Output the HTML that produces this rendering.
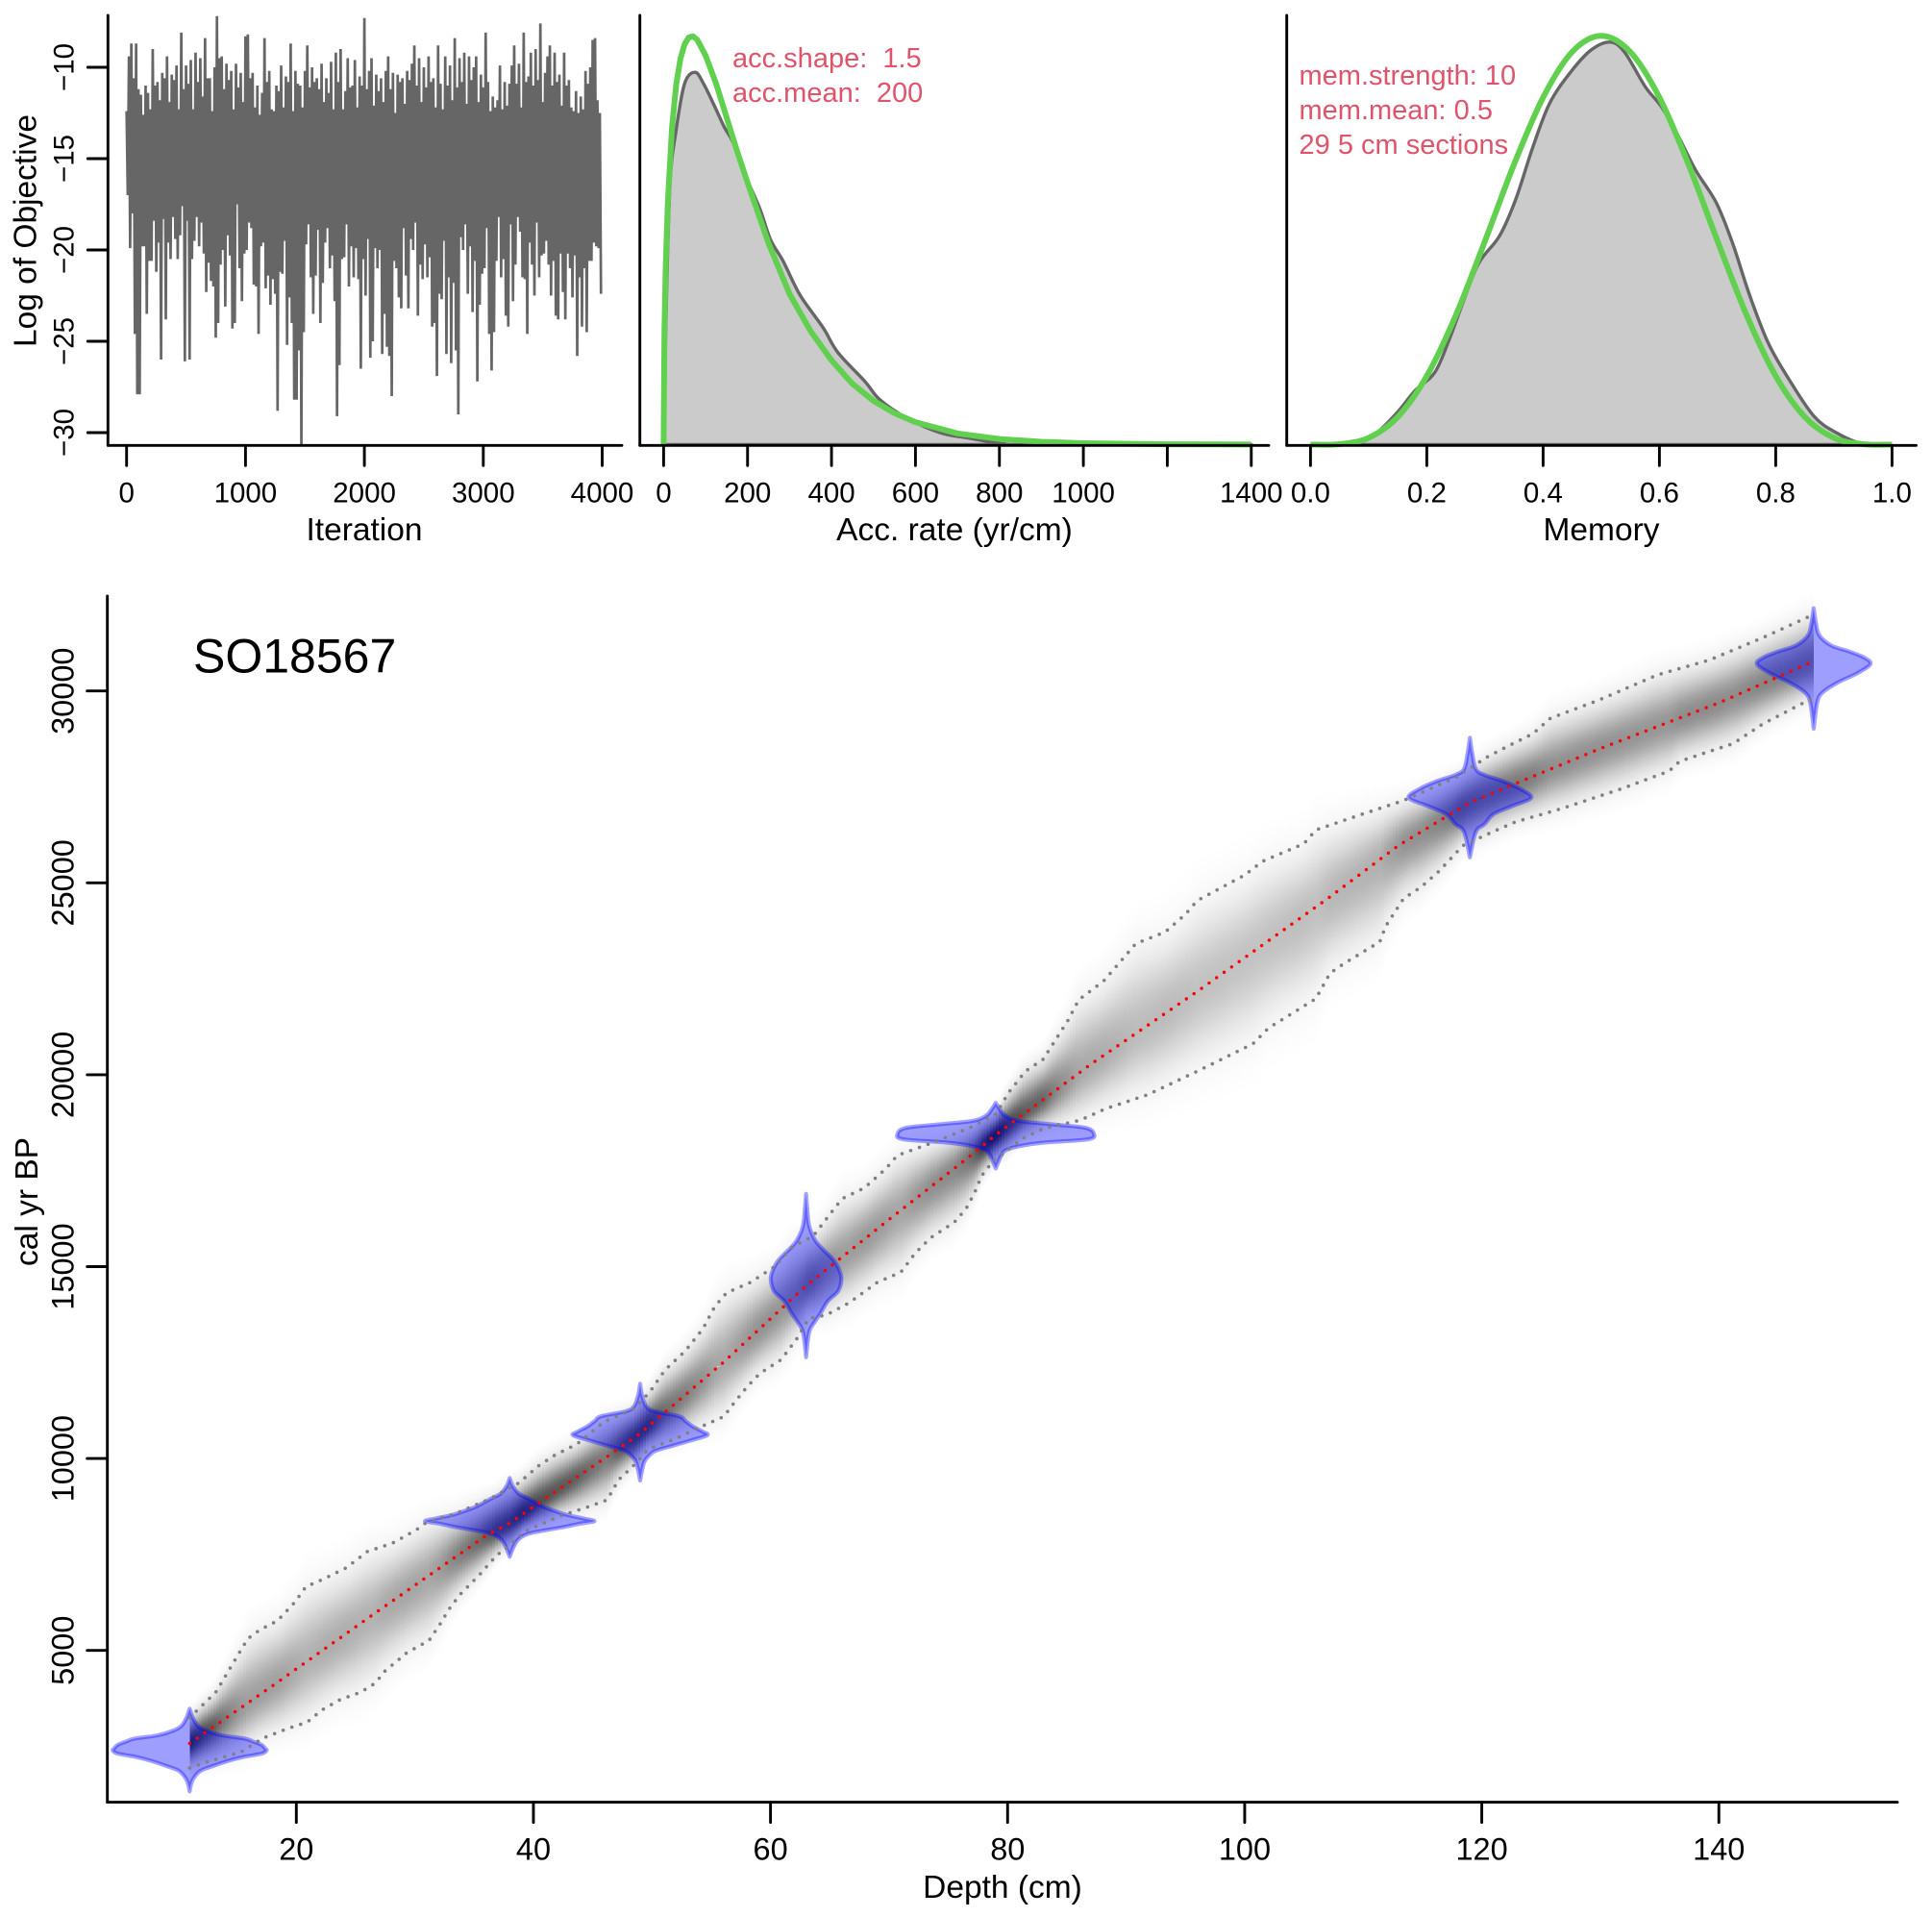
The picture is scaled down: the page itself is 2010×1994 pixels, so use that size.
<!DOCTYPE html>
<html lang="en">
<head>
<meta charset="utf-8">
<title>SO18567 age-depth model</title>
<style>
html,body{margin:0;padding:0;background:#fff}
svg{display:block}
text{font-family:"Liberation Sans",Arial,sans-serif;fill:#000;white-space:pre}
.note{fill:#DF536B;font-size:29px}
</style>
</head>
<body>
<svg id="chart" xmlns="http://www.w3.org/2000/svg" width="2010" height="1994" viewBox="0 0 2010 1994">
  <defs>
    <linearGradient id="heatUp" x1="0" y1="0" x2="0" y2="1">
      <stop offset="0" stop-color="#000" stop-opacity="0"/>
      <stop offset="0.1" stop-color="#000" stop-opacity="0.026"/>
      <stop offset="0.2" stop-color="#000" stop-opacity="0.056"/>
      <stop offset="0.3" stop-color="#000" stop-opacity="0.11"/>
      <stop offset="0.4" stop-color="#000" stop-opacity="0.198"/>
      <stop offset="0.5" stop-color="#000" stop-opacity="0.325"/>
      <stop offset="0.6" stop-color="#000" stop-opacity="0.487"/>
      <stop offset="0.7" stop-color="#000" stop-opacity="0.667"/>
      <stop offset="0.8" stop-color="#000" stop-opacity="0.835"/>
      <stop offset="0.9" stop-color="#000" stop-opacity="0.956"/>
      <stop offset="1" stop-color="#000" stop-opacity="1"/>
    </linearGradient>
    <linearGradient id="heatDown" x1="0" y1="1" x2="0" y2="0">
      <stop offset="0" stop-color="#000" stop-opacity="0"/>
      <stop offset="0.1" stop-color="#000" stop-opacity="0.026"/>
      <stop offset="0.2" stop-color="#000" stop-opacity="0.056"/>
      <stop offset="0.3" stop-color="#000" stop-opacity="0.11"/>
      <stop offset="0.4" stop-color="#000" stop-opacity="0.198"/>
      <stop offset="0.5" stop-color="#000" stop-opacity="0.325"/>
      <stop offset="0.6" stop-color="#000" stop-opacity="0.487"/>
      <stop offset="0.7" stop-color="#000" stop-opacity="0.667"/>
      <stop offset="0.8" stop-color="#000" stop-opacity="0.835"/>
      <stop offset="0.9" stop-color="#000" stop-opacity="0.956"/>
      <stop offset="1" stop-color="#000" stop-opacity="1"/>
    </linearGradient>
    <clipPath id="traceClip"><rect x="112" y="10" width="535" height="453"/></clipPath>
  </defs>

  <g id="tracePanel">
    <g id="traceMarks" clip-path="url(#traceClip)"></g>
    <g id="traceAxes"></g>
    <text x="379" y="562" font-size="33.5" text-anchor="middle">Iteration</text>
    <text transform="translate(37.5,240) rotate(-90)" font-size="33.5" text-anchor="middle">Log of Objective</text>
  </g>

  <g id="accPanel">
    <g id="accMarks"></g>
    <g id="accAxes"></g>
    <text x="993" y="562" font-size="33.5" text-anchor="middle">Acc. rate (yr/cm)</text>
    <text class="note" x="762" y="70">acc.shape:  1.5</text>
    <text class="note" x="762" y="106">acc.mean:  200</text>
  </g>

  <g id="memPanel">
    <g id="memMarks"></g>
    <g id="memAxes"></g>
    <text x="1666" y="562" font-size="33.5" text-anchor="middle">Memory</text>
    <text class="note" x="1351.5" y="88">mem.strength: 10</text>
    <text class="note" x="1351.5" y="124">mem.mean: 0.5</text>
    <text class="note" x="1351.5" y="160">29 5 cm sections</text>
  </g>

  <g id="mainPanel">
    <g id="heat"></g>
    <g id="violins"></g>
    <g id="bounds"></g>
    <g id="mainAxes"></g>
    <text x="201" y="699.5" font-size="50">SO18567</text>
    <text x="1043" y="1974" font-size="33.5" text-anchor="middle">Depth (cm)</text>
    <text transform="translate(39,1250) rotate(-90)" font-size="33.5" text-anchor="middle">cal yr BP</text>
  </g>
</svg>

<script>
// ---------- trace panel data (envelope, 200 bins) ----------
const traceHigh = [
-12.4,-9.4,-8.7,-10.6,-8.7,-11.2,-11.5,-12.6,-11.0,-11.4,-12.3,-9.0,-11.0,-10.8,-11.8,-10.3,-10.6,-9.4,-11.9,-10.4,
-10.7,-9.9,-12.3,-8.1,-11.2,-9.9,-10.9,-9.6,-12.3,-9.2,-10.8,-9.5,-11.6,-8.4,-10.6,-10.6,-12.4,-10.0,-7.2,-9.5,
-9.4,-11.2,-9.8,-10.7,-10.2,-12.3,-9.8,-11.1,-10.3,-11.9,-8.3,-8.2,-10.6,-10.3,-12.2,-11.0,-12.6,-11.4,-8.4,-10.8,
-10.2,-12.3,-12.4,-11.0,-11.3,-9.9,-12.2,-10.5,-10.8,-8.7,-12.4,-10.2,-10.9,-11.0,-12.2,-10.2,-8.8,-11.1,-10.0,-10.8,
-10.6,-11.2,-9.8,-11.9,-10.6,-11.4,-9.7,-12.3,-9.2,-10.8,-9.0,-12.3,-11.3,-9.5,-11.1,-11.0,-9.6,-12.2,-10.5,-11.0,
-7.3,-11.2,-10.2,-9.5,-12.1,-10.4,-11.3,-10.6,-11.9,-10.2,-9.4,-11.2,-10.3,-12.5,-10.4,-10.8,-10.6,-12.0,-10.2,-10.7,
-9.8,-8.8,-11.0,-9.5,-11.9,-10.0,-11.1,-9.4,-10.8,-10.6,-12.2,-8.8,-10.9,-12.3,-9.4,-11.0,-9.9,-11.8,-8.4,-11.1,
-9.5,-10.8,-9.2,-12.0,-9.4,-10.7,-10.0,-9.4,-11.9,-10.4,-11.1,-8.1,-10.8,-12.4,-11.6,-12.2,-11.8,-9.9,-12.3,-10.8,
-12.1,-10.9,-9.9,-8.8,-10.9,-9.8,-12.2,-8.1,-10.8,-10.5,-9.2,-11.0,-9.0,-10.7,-7.6,-11.9,-10.3,-9.4,-8.8,-11.0,
-9.2,-10.8,-10.4,-12.1,-9.2,-11.0,-10.7,-12.2,-12.4,-11.3,-12.5,-11.6,-12.3,-10.2,-10.9,-10.0,-8.5,-8.4,-11.8,-12.5
];
const traceLow = [
-17,-19.9,-18,-24.6,-27.9,-27.9,-19.8,-19.8,-23.5,-20.6,-20.6,-18.4,-21.2,-19.6,-26.0,-18.3,-23.8,-19.6,-20.5,-18.2,
-19.4,-20.5,-19.2,-17.6,-26.1,-18.4,-26.0,-20.5,-19.5,-18.2,-19.8,-18.5,-20.2,-22.3,-20.7,-21.7,-22.0,-24.8,-24.0,-20.8,
-20.0,-23.1,-19.2,-20.3,-24.3,-24.0,-17.5,-21.0,-22.8,-20.2,-20.0,-18.5,-18.8,-21.9,-22.0,-24.6,-19.8,-19.6,-22.1,-21.4,
-23.0,-21.6,-22.4,-28.8,-21.2,-21.3,-19.5,-25.2,-22.6,-24.0,-28.2,-28.2,-25.5,-30.8,-24.5,-19.7,-18.6,-21.5,-23.5,-21.4,
-18.9,-24.0,-21.8,-19.6,-18.8,-21.0,-20.3,-22.8,-29.1,-26.3,-20.5,-20.4,-18.6,-22.0,-19.8,-21.5,-19.9,-21.6,-26.5,-20.5,
-22.5,-19.4,-25.9,-25.0,-19.9,-21.0,-20.0,-25.7,-23.5,-25.3,-25.8,-28.0,-20.6,-21.0,-22.6,-23.2,-18.8,-21.4,-23.2,-19.4,
-20.0,-18.5,-23.6,-20.8,-21.6,-19.7,-21.5,-20.4,-24.2,-24.0,-26.9,-22.4,-22.7,-19.5,-25.7,-21.5,-26.2,-21.8,-25.5,-29.0,
-19.3,-20.0,-18.6,-22.4,-19.8,-23.4,-20.6,-27.2,-23.0,-21.3,-21.0,-18.8,-24.6,-26.6,-24.5,-20.6,-18.2,-21.5,-20.5,-23.6,
-24.2,-18.6,-22.8,-20.8,-18.2,-19.0,-21.5,-21.6,-24.6,-19.6,-20.8,-22.5,-18.5,-21.5,-20.3,-20.2,-19.5,-20.8,-22.5,-20.6,
-23.6,-23.8,-20.2,-22.3,-23.8,-20.2,-21.0,-22.6,-20.3,-25.8,-21.5,-24.2,-21.0,-24.5,-20.6,-20.6,-19.6,-19.8,-19.9,-22.4
];
const traceXTicks = [0, 1000, 2000, 3000, 4000];
const traceYTicks = [-10, -15, -20, -25, -30];

// ---------- accumulation rate panel data (x in yr/cm, density x 1000) ----------
const accPriorX = [0,2,5,10,20,30,40,50,60,70,80,100,125,150,175,200,250,300,350,400,450,500,550,600,700,800,900,1000,1200,1400];
const accPriorY = [0,1.02,1.58,2.15,2.82,3.2,3.43,3.56,3.62,3.63,3.6,3.46,3.21,2.91,2.61,2.33,1.79,1.34,1.01,0.75,0.54,0.39,0.28,0.2,0.1,0.05,0.026,0.013,0.003,0.001];
const accPostX = [0,5,15,30,50,75,95,120,145,165,200,230,255,285,325,380,415,480,515,580,660,730,810,890,1400];
const accPostY = [0,1.0,2.3,2.8,3.21,3.31,3.21,3.02,2.82,2.69,2.35,2.09,1.82,1.63,1.33,1.04,0.82,0.56,0.4,0.235,0.105,0.056,0.007,0,0];
const accXTicks = [0,200,400,600,800,1000,1200,1400];
const accXLabels = ["0","200","400","600","800","1000","","1400"];

// ---------- memory panel data ----------
const memPriorX = [0,0.05,0.1,0.15,0.2,0.25,0.3,0.35,0.4,0.45,0.5,0.55,0.6,0.65,0.7,0.75,0.8,0.85,0.9,0.95,1];
const memPriorY = [0,0.003,0.041,0.167,0.413,0.779,1.225,1.687,2.09,2.364,2.461,2.364,2.09,1.687,1.225,0.779,0.413,0.167,0.041,0.003,0];
const memPostX = [0.07,0.11,0.149,0.18,0.214,0.239,0.26,0.289,0.325,0.353,0.382,0.411,0.447,0.482,0.515,0.54,0.576,0.604,0.633,0.662,0.698,0.726,0.755,0.787,0.823,0.866,0.905,0.948,0.97];
const memPostY = [0,0.06,0.193,0.326,0.436,0.636,0.835,1.09,1.256,1.477,1.787,2.053,2.241,2.374,2.423,2.363,2.153,2.031,1.854,1.654,1.455,1.211,0.901,0.613,0.392,0.17,0.07,0.004,0];
const memXTicks = [0,0.2,0.4,0.6,0.8,1];
const memXLabels = ["0.0","0.2","0.4","0.6","0.8","1.0"];

// ---------- age-depth model data ----------
const meanDepths = [11,18,27,36,38,41,46.5,49,56,63,70,77,79,87,96,107,113,119,130,140,148];
const meanAges = [2578,4080,6050,7990,8316,8960,10107,10654,12500,14500,16230,17920,18434,20270,22170,24590,25980,27094,28500,29690,30774];
const upperDepths = [11,13.2,14.7,15.9,16.9,18.4,19.9,20.8,22.2,24.2,26,28.1,30.1,31,33.3,36.4,38.8,40.4,41.7,43.7,46,48.4,49.8,51.1,52.8,54.3,55.3,56.3,58.3,60.3,61.9,63.6,65.6,66.1,67.9,69.7,70.7,73.5,76.8,79,80.1,81.5,83,85.1,86,88.1,90.1,90.8,93.3,95,96,100,101.5,105,106,109.9,113.4,117.9,120.4,122.3,124.3,125.8,129.8,134.8,139.2,143.7,147.7,148];
const upperAges = [3250,3907,4687,5303,5533,5771,6264,6659,6847,7151,7578,7792,8137,8342,8548,8958,9369,9802,10070,10384,10965,11278,11726,12307,12799,13381,13962,14320,14588,14991,15528,15796,16601,16780,17048,17541,17898,18212,18614,18972,19540,20090,20403,21420,21951,22442,23158,23414,23720,24180,24538,25203,25560,26021,26378,26788,27145,27759,28270,28577,28883,29292,29752,30417,30805,31388,31951,32040];
const lowerDepths = [11,12.5,15.3,17.2,19.4,20.9,22.2,23.7,25.4,26.7,27.4,29.3,31.2,32.1,32.9,33.8,35.5,36.9,38,39.2,42.3,44.6,46.2,47.2,48.4,49.7,52,53.5,55,56.1,56.6,58,59.1,60.9,62.3,63.2,64.7,66.6,69,71,72.2,73.5,75.5,76.5,77.2,77.8,78.8,81.3,83.1,86.1,88.3,91.8,96,100.7,102,106,107.2,108.4,111.4,111.9,113.4,114.9,116.4,118.4,120.9,122.8,126.8,131.8,135.8,136.7,141.2,143.7,147.2,148];
const lowerAges = [1936,2100,2347,2716,2979,3127,3456,3718,3907,4154,4441,4934,5262,5673,6084,6453,6987,7480,7726,8096,8507,8740,8917,9450,9802,10250,10518,10742,10947,11100,11323,11860,12218,12576,13157,13649,13739,14052,14588,14857,15349,15751,16154,16512,16914,17362,17764,18346,18609,18812,19119,19477,20091,20807,21215,21982,22647,22902,23465,23874,24589,24896,25305,25970,26327,26583,26941,27452,27912,28168,28628,29139,29701,29800];
const mainXTicks = [20,40,60,80,100,120,140];
const mainYTicks = [5000,10000,15000,20000,25000,30000];

// dated depths: age grid and half width of each calibrated distribution (cm)
const date11Ages = [3481,3247,3038,2913,2788,2704,2621,2537,2454,2395,2312,2228,2120,1995,1869,1702,1535,1326];
const date11Width = [0,0.27,0.68,1.35,2.7,4.6,5.4,6.08,6.35,6.49,6.08,4.6,3.24,2.03,0.95,0.41,0.14,0];
const date38Ages = [9492,9287,9081,8958,8777,8712,8547,8440,8367,8301,8219,8120,8038,7907,7726,7439];
const date38Width = [0,0.25,0.78,1.55,2.64,3.1,4.65,6.2,7.14,5.9,4.65,2.8,1.55,0.78,0.37,0];
const date49Ages = [11949,11636,11368,11234,11100,10983,10831,10697,10607,10473,10339,10205,10088,9891,9426];
const date49Width = [0,0.17,0.5,1.16,3.3,3.8,4.47,5.3,5.66,4.3,2.81,1.32,0.8,0.33,0];
const date63Ages = [16896,16512,16064,15707,15483,15170,14901,14678,14365,14096,13783,13560,13291,12638];
const date63Width = [0,0.1,0.26,0.73,1.32,2.32,2.81,2.98,2.71,1.82,1.22,0.73,0.26,0];
const date79Ages = [19267,19106,18927,18793,18703,18614,18462,18319,18229,18140,18033,17854,17558];
const date79Width = [0,0.33,0.83,2.0,4.97,7.6,8.28,7.8,3.97,2.0,0.83,0.4,0];
const date119Ages = [28781,28372,27963,27810,27656,27452,27217,26992,26788,26532,26327,25663];
const date119Width = [0,0.2,0.5,1.24,2.73,4.22,5.16,3.48,1.99,1.24,0.5,0];
const date148Ages = [32155,31746,31439,31184,31030,30877,30703,30468,30212,29957,29701,29016];
const date148Width = [0,0.2,0.5,1.49,2.98,4.22,4.79,3.72,1.99,0.74,0.3,0];
const dateDepths = [11,38,49,63,79,119,148];
const dateAgeSets = [date11Ages,date38Ages,date49Ages,date63Ages,date79Ages,date119Ages,date148Ages];
const dateWidthSets = [date11Width,date38Width,date49Width,date63Width,date79Width,date119Width,date148Width];

// ---------- axis functions ----------
const traceX = v => 131.7 + v * 0.12370;
const traceY = v => 70 + (-10 - v) * 19.0;
const accX = v => 690.4 + v * 0.4367;
const accY = v => 462.5 - v * 117;
const memX = v => 1363.4 + v * 605;
const memY = v => 462.5 - v * 172.8;
const depthX = v => 308.3 + (v - 20) * 12.333;
const ageY = v => 718.7 + (30000 - v) * 0.03992;

const NS = 'http://www.w3.org/2000/svg';
function add(parent, tag, attrs) {
  const el = document.createElementNS(NS, tag);
  for (const k in attrs) el.setAttribute(k, attrs[k]);
  parent.appendChild(el);
  return el;
}
const byId = id => document.getElementById(id);
const AXW = 2.9, TICK = 21;

function axes(host, cfg) {
  const base = add(host, 'line', {x1: cfg.left, y1: cfg.bottom, x2: cfg.right, y2: cfg.bottom, stroke: '#000', 'stroke-width': AXW, 'stroke-linecap': 'round'});
  
  
  const side = add(host, 'line', {x1: cfg.left, y1: cfg.top, x2: cfg.left, y2: cfg.bottom, stroke: '#000', 'stroke-width': AXW, 'stroke-linecap': 'round'});
  
  
  cfg.xTicks.forEach((t, i) => {
    const px = cfg.xs(t);
    const tk = add(host, 'line', {x1: px, y1: cfg.bottom, x2: px, y2: cfg.bottom + TICK, stroke: '#000', 'stroke-width': AXW, 'stroke-linecap': 'round'});
    
    
    const lab = cfg.xLabels ? cfg.xLabels[i] : String(t);
    if (lab) {
      const tx = add(host, 'text', {x: px, y: cfg.xBase, 'font-size': cfg.font, 'text-anchor': 'middle'});
      tx.textContent = lab;
      
      
    }
  });
  (cfg.yTicks || []).forEach(t => {
    const py = cfg.ys(t);
    const tk = add(host, 'line', {x1: cfg.left - TICK, y1: py, x2: cfg.left, y2: py, stroke: '#000', 'stroke-width': AXW, 'stroke-linecap': 'round'});
    
    
    const tx = add(host, 'text', {transform: 'translate(' + cfg.yBase + ',' + py + ') rotate(-90)', 'font-size': cfg.font, 'text-anchor': 'middle'});
    tx.textContent = String(t).replace('-', '\u2212');
    
    
  });
}

function ptsOf(xs, ys, fx, fy) {
  return xs.map((x, i) => fx(x).toFixed(2) + ',' + fy(ys[i]).toFixed(2)).join(' ');
}
function interp(xs, ys, x) {
  if (x <= xs[0]) return ys[0];
  for (let i = 1; i < xs.length; i++) {
    if (x <= xs[i]) {
      const t = (x - xs[i - 1]) / (xs[i] - xs[i - 1]);
      return ys[i - 1] + t * (ys[i] - ys[i - 1]);
    }
  }
  return ys[ys.length - 1];
}
function smoothPath(p) {
  let d = 'M' + p[0][0].toFixed(2) + ' ' + p[0][1].toFixed(2);
  for (let i = 0; i < p.length - 1; i++) {
    const a = p[Math.max(i - 1, 0)], b = p[i], c = p[i + 1], e = p[Math.min(i + 2, p.length - 1)];
    const c1x = b[0] + (c[0] - a[0]) / 6, c1y = b[1] + (c[1] - a[1]) / 6;
    const c2x = c[0] - (e[0] - b[0]) / 6, c2y = c[1] - (e[1] - b[1]) / 6;
    d += 'C' + c1x.toFixed(2) + ' ' + c1y.toFixed(2) + ' ' + c2x.toFixed(2) + ' ' + c2y.toFixed(2) + ' ' + c[0].toFixed(2) + ' ' + c[1].toFixed(2);
  }
  return d;
}

// ---------- trace ----------
(function () {
  const step = 4000 / traceHigh.length;
  const pts = [];
  traceHigh.forEach((h, i) => {
    pts.push(traceX(i * step).toFixed(2) + ',' + traceY(h).toFixed(2));
    pts.push(traceX((i + 0.5) * step).toFixed(2) + ',' + traceY(traceLow[i]).toFixed(2));
  });
  const line = add(byId('traceMarks'), 'polyline', {points: pts.join(' '), fill: 'none', stroke: '#666', 'stroke-width': 2.7, 'stroke-linejoin': 'miter', 'stroke-miterlimit': 2});
  
  
  axes(byId('traceAxes'), {left: 112.3, right: 647, top: 16, bottom: 463.3, xTicks: traceXTicks, xs: traceX, xBase: 522.7, font: 29.5, yTicks: traceYTicks, ys: traceY, yBase: 76.7});
})();

// ---------- acc rate ----------
(function () {
  const g = byId('accMarks');
  const post = accPostX.map((x, i) => [accX(x), accY(accPostY[i])]);
  const area = add(g, 'path', {d: smoothPath(post) + 'Z', fill: '#cbcbcb', stroke: '#666', 'stroke-width': 3.4, 'stroke-linejoin': 'round'});
  
  
  const prior = add(g, 'polyline', {points: ptsOf(accPriorX, accPriorY, accX, accY), fill: 'none', stroke: '#61D04F', 'stroke-width': 6, 'stroke-linejoin': 'round'});
  
  
  axes(byId('accAxes'), {left: 665.7, right: 1320, top: 16, bottom: 463.3, xTicks: accXTicks, xLabels: accXLabels, xs: accX, xBase: 522.7, font: 29.5});
})();

// ---------- memory ----------
(function () {
  const g = byId('memMarks');
  const pts = memPostX.map((x, i) => [memX(x), memY(memPostY[i])]);
  const area = add(g, 'path', {d: smoothPath(pts) + 'Z', fill: '#cbcbcb', stroke: '#666', 'stroke-width': 3.4, 'stroke-linejoin': 'round'});
  
  
  const pp = memPriorX.map((x, i) => [memX(x), memY(memPriorY[i])]);
  const prior = add(g, 'path', {d: smoothPath(pp), fill: 'none', stroke: '#61D04F', 'stroke-width': 6});
  
  
  axes(byId('memAxes'), {left: 1338.7, right: 1993.5, top: 16, bottom: 463.3, xTicks: memXTicks, xLabels: memXLabels, xs: memX, xBase: 522.7, font: 29.5});
})();

// ---------- main heatmap: one column per 0.25 cm, shaded around the mean ----------
(function () {
  const heat = byId('heat');
  const binCm = 0.25;
  for (let d = meanDepths[0]; d < meanDepths[meanDepths.length - 1]; d += binCm) {
    const mid = d + binCm / 2;
    const m = interp(meanDepths, meanAges, mid);
    const u = interp(upperDepths, upperAges, mid);
    const l = interp(lowerDepths, lowerAges, mid);
    const ym = ageY(m);
    const hu = ym - ageY(u);
    const hl = ageY(l) - ym;
    const op = Math.min(0.88, 0.48 * 90 / (hu + hl));
    const x0 = depthX(d), w = depthX(d + binCm) - x0;
    const up = add(heat, 'rect', {x: x0.toFixed(2), y: (ym - 1.5 * hu).toFixed(2), width: w.toFixed(2), height: (1.5 * hu).toFixed(2), fill: 'url(#heatUp)', 'fill-opacity': op.toFixed(3), 'shape-rendering': 'crispEdges'});
    
    
    const dn = add(heat, 'rect', {x: x0.toFixed(2), y: ym.toFixed(2), width: w.toFixed(2), height: (1.5 * hl).toFixed(2), fill: 'url(#heatDown)', 'fill-opacity': op.toFixed(3), 'shape-rendering': 'crispEdges'});
    
    
  }
})();

// ---------- violins ----------
(function () {
  const host = byId('violins');
  dateDepths.forEach((depth, i) => {
    const ages = dateAgeSets[i], wid = dateWidthSets[i];
    const right = ages.map((a, k) => [depthX(depth + wid[k]), ageY(a)]);
    const left = ages.map((a, k) => [depthX(depth - wid[k]), ageY(a)]).reverse();
    const d = smoothPath(right) + smoothPath(left).replace(/^M[^C]*/, '') + 'Z';
    const v = add(host, 'path', {d: d, fill: 'rgba(0,0,255,0.38)', stroke: 'rgba(0,0,255,0.36)', 'stroke-width': 4.2, 'stroke-linejoin': 'round'});
    
    
  });
})();

// ---------- bounds and mean ----------
(function () {
  const host = byId('bounds');
  const up = add(host, 'polyline', {points: ptsOf(upperDepths, upperAges, depthX, ageY), fill: 'none', stroke: '#808080', 'stroke-width': 3.6, 'stroke-linecap': 'round', 'stroke-dasharray': '0 9.6'});
  
  
  const lo = add(host, 'polyline', {points: ptsOf(lowerDepths, lowerAges, depthX, ageY), fill: 'none', stroke: '#808080', 'stroke-width': 3.6, 'stroke-linecap': 'round', 'stroke-dasharray': '0 9.6'});
  
  
  const me = add(host, 'polyline', {points: ptsOf(meanDepths, meanAges, depthX, ageY), fill: 'none', stroke: '#ff0000', 'stroke-width': 3.4, 'stroke-linecap': 'round', 'stroke-dasharray': '0 9.6'});
  
  
  axes(byId('mainAxes'), {left: 111.7, right: 1974, top: 620, bottom: 1874.6, xTicks: mainXTicks, xs: depthX, xBase: 1934.7, font: 32.5, yTicks: mainYTicks, ys: ageY, yBase: 76.7});
})();
</script>
</body>
</html>
